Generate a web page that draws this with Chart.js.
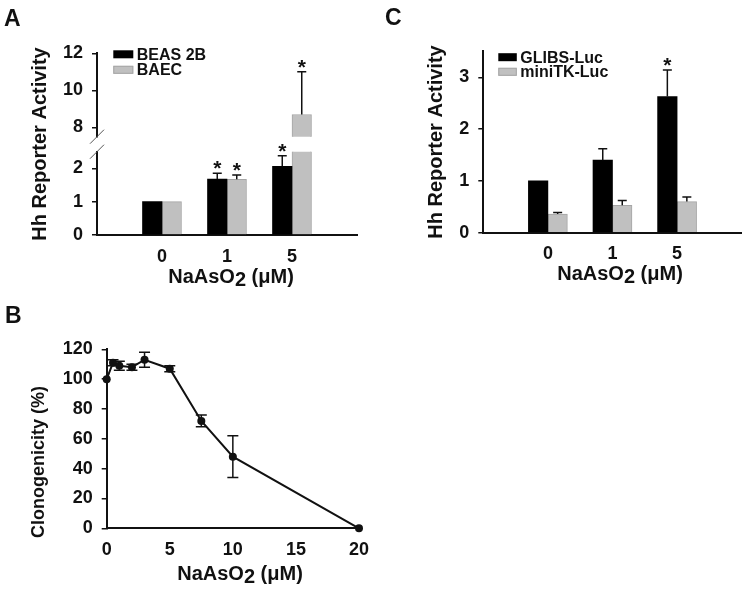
<!DOCTYPE html>
<html><head><meta charset="utf-8">
<script src="https://cdn.jsdelivr.net/npm/chart.js@4/dist/chart.umd.min.js"></script>
<style>
html,body{margin:0;padding:0;background:#fff;}
#wrap{position:relative;width:749px;height:594px;overflow:hidden;background:#fff;}
canvas{position:absolute;}
.lab{position:absolute;font-family:"Liberation Sans",Arial,sans-serif;font-weight:bold;font-size:23px;line-height:23px;color:#111;}
</style></head><body>
<div id="wrap">
<canvas id="aLow" width="370" height="300" style="left:0;top:0"></canvas>
<canvas id="aHigh" width="370" height="300" style="left:0;top:0"></canvas>
<canvas id="cChart" width="369" height="300" style="left:380px;top:0"></canvas>
<canvas id="bChart" width="380" height="294" style="left:0;top:300px"></canvas>
<div class="lab" style="left:4px;top:7px">A</div>
<div class="lab" style="left:385px;top:6px">C</div>
<div class="lab" style="left:5px;top:304px">B</div>
</div>
<script>
// ---------- data ----------
const doseLabels = ['0', '1', '5'];
// Panel A
const beas2b = [1.0, 1.68, 2.06];
const beas2bErr = [0, 0.17, 0.32];
const beas2bSig = [false, true, true];
const baec = [1.0, 1.67, 8.7];
const baecErr = [0, 0.13, 2.3];
const baecSig = [false, true, true];
const aLowerTicks = [0, 1, 2];
const aUpperTicks = [8, 10, 12];
// Panel C
const glibs = [1.0, 1.40, 2.63];
const glibsErr = [0, 0.22, 0.51];
const glibsSig = [false, false, true];
const minitk = [0.36, 0.53, 0.60];
const minitkErr = [0.03, 0.09, 0.09];
const cTicks = [0, 1, 2, 3];
// Panel B
const clonoDose = [0, 0.5, 1, 2, 3, 5, 7.5, 10, 20];
const clono = [100, 111, 109, 108, 113, 107, 72, 48, 0];
const clonoErr = [0, 2, 3, 2, 5, 2, 4, 14, 0];
const bXTicks = [0, 5, 10, 15, 20];
const bYTicks = [0, 20, 40, 60, 80, 100, 120];
// texts
const yTitleHh = 'Hh Reporter Activity';
const yTitleClono = 'Clonogenicity (%)';
const xTitleDose = 'NaAsO2 (μM)';

// ---------- helpers ----------
const FONT = "'Liberation Sans', Arial, sans-serif";
const INK = '#111';
const BLACK = '#000';
const GREY = '#c0c0c0';
const pad = arr => [null, ...arr, null];
const catLabels = pad(doseLabels);

const errPlugin = {
  id: 'errBars',
  afterDatasetsDraw(chart, args, o) {
    const ctx = chart.ctx, yS = chart.scales.y, ca = chart.chartArea;
    chart.data.datasets.forEach((ds, di) => {
      if (!ds.errors) return;
      const meta = chart.getDatasetMeta(di);
      meta.data.forEach((el, i) => {
        const raw = ds.data[i];
        const val = (raw !== null && typeof raw === 'object') ? raw.y : raw;
        if (val === null || val === undefined) return;
        const e = ds.errors[i];
        const x = el.x;
        if (e) {
          const yTop = yS.getPixelForValue(val + e);
          const yBot = yS.getPixelForValue(o.both ? val - e : val);
          ctx.save();
          ctx.beginPath(); ctx.rect(ca.left - 20, ca.top, ca.width + 40, ca.height); ctx.clip();
          ctx.strokeStyle = INK; ctx.lineWidth = o.lw || 1.5;
          ctx.beginPath();
          ctx.moveTo(x, yBot); ctx.lineTo(x, yTop);
          ctx.moveTo(x - o.cap / 2, yTop); ctx.lineTo(x + o.cap / 2, yTop);
          if (o.both) { ctx.moveTo(x - o.cap / 2, yBot); ctx.lineTo(x + o.cap / 2, yBot); }
          ctx.stroke();
          ctx.restore();
        }
        if (ds.sig && ds.sig[i]) {
          const top = val + (e || 0);
          if (top >= yS.min && top <= yS.max) {
            const yy = yS.getPixelForValue(top);
            ctx.save();
            ctx.fillStyle = INK; ctx.font = 'bold 21px ' + FONT;
            ctx.textAlign = 'center'; ctx.textBaseline = 'alphabetic';
            ctx.fillText('*', x, yy + 2);
            ctx.restore();
          }
        }
      });
    });
  }
};

function drawRich(ctx, it) {
  ctx.save();
  ctx.translate(it.x, it.y);
  ctx.rotate(it.rot || 0);
  ctx.font = 'bold ' + (it.size || 20) + 'px ' + FONT;
  ctx.fillStyle = INK; ctx.textBaseline = 'middle'; ctx.textAlign = 'left';
  const s = it.sub;
  const segs = (s !== undefined && s >= 0)
    ? [[it.text.slice(0, s), 0], [it.text[s], 3], [it.text.slice(s + 1), 0]]
    : [[it.text, 0]];
  const total = segs.reduce((acc, sg) => acc + ctx.measureText(sg[0]).width, 0);
  let cx = -total / 2;
  segs.forEach(sg => { ctx.fillText(sg[0], cx, sg[1]); cx += ctx.measureText(sg[0]).width; });
  ctx.restore();
}

const titlesPlugin = {
  id: 'freeTitles',
  afterDraw(chart, args, o) {
    (o.items || []).forEach(it => drawRich(chart.ctx, it));
  }
};

const legendPlugin = {
  id: 'boxLegend',
  afterDraw(chart, args, o) {
    if (!o.show) return;
    const ctx = chart.ctx, ca = chart.chartArea;
    ctx.save();
    ctx.font = 'bold 16px ' + FONT; ctx.textBaseline = 'middle'; ctx.textAlign = 'left';
    chart.data.datasets.forEach((ds, i) => {
      const cy = ca.top + o.dy + i * o.lineH;
      const bx = ca.left + o.dx;
      ctx.fillStyle = ds.backgroundColor;
      ctx.fillRect(bx, cy - o.boxH / 2, o.boxW, o.boxH);
      if (ds.borderWidth) {
        ctx.strokeStyle = ds.borderColor; ctx.lineWidth = 1;
        ctx.strokeRect(bx + 0.5, cy - o.boxH / 2 + 0.5, o.boxW - 1, o.boxH - 1);
      }
      ctx.fillStyle = INK;
      ctx.fillText(ds.label, bx + o.boxW + o.gap, cy + 1);
    });
    ctx.restore();
  }
};

const breakPlugin = {
  id: 'axisBreak',
  afterDraw(chart, args, o) {
    if (!o.edge) return;
    const ctx = chart.ctx, ca = chart.chartArea;
    const y = o.edge === 'top' ? ca.top : ca.bottom;
    const x = ca.left;
    ctx.save();
    ctx.strokeStyle = '#555'; ctx.lineWidth = 1;
    ctx.beginPath(); ctx.moveTo(x - 7, y + 7); ctx.lineTo(x + 7, y - 7); ctx.stroke();
    ctx.restore();
  }
};

Chart.register(errPlugin, titlesPlugin, legendPlugin, breakPlugin);

function yAxis(ticksArr, min, max, width) {
  return {
    min, max,
    afterBuildTicks: s => { s.ticks = ticksArr.map(v => ({ value: v })); },
    afterFit: s => { s.width = width; },
    grid: { display: true, drawOnChartArea: false, drawTicks: true, tickLength: 5, color: INK, lineWidth: 1.5 },
    border: { display: true, color: INK, width: 2 },
    ticks: { padding: 9, color: INK, font: { family: FONT, size: 18, weight: 'bold' } }
  };
}
function xCatAxis(height, show) {
  return {
    type: 'category', offset: false, display: show,
    afterFit: s => { s.height = height; },
    grid: { display: false, drawTicks: false },
    border: { display: true, color: INK, width: 2 },
    ticks: { padding: 11, color: INK, autoSkip: false, maxRotation: 0, font: { family: FONT, size: 18, weight: 'bold' } }
  };
}
const base = { responsive: false, animation: false, devicePixelRatio: 1, events: [] };
function barDs(label, values, errs, sig, color, filter) {
  return {
    label,
    data: pad(values.map(v => filter(v) ? v : null)),
    errors: pad(errs), sig: sig ? pad(sig) : null,
    backgroundColor: color,
    borderColor: color === GREY ? '#a5a5a5' : color,
    borderWidth: color === GREY ? 1 : 0,
    barThickness: 19.5
  };
}

// ---------- Panel A lower ----------
const lowMax = 2.5, highMin = 7.5;
new Chart(document.getElementById('aLow'), {
  type: 'bar',
  data: { labels: catLabels, datasets: [
    barDs('BEAS 2B', beas2b, beas2bErr, beas2bSig, BLACK, v => true),
    barDs('BAEC', baec, baecErr, baecSig, GREY, v => true)
  ] },
  options: Object.assign({}, base, {
    layout: { padding: { left: 57, right: 13, top: 151.7, bottom: 0 } },
    scales: { x: xCatAxis(65, true), y: yAxis(aLowerTicks, 0, lowMax, 40) },
    plugins: {
      legend: { display: false }, tooltip: { enabled: false },
      errBars: { cap: 9, lw: 1.5, both: false },
      axisBreak: { edge: 'top' },
      freeTitles: { items: [
        { text: yTitleHh, x: 40, y: 144, rot: -Math.PI / 2, size: 20 },
        { text: xTitleDose, sub: xTitleDose.indexOf('2'), x: 231, y: 277.5, size: 20 }
      ] }
    }
  })
});

// ---------- Panel A upper ----------
new Chart(document.getElementById('aHigh'), {
  type: 'bar',
  data: { labels: catLabels, datasets: [
    barDs('BEAS 2B', beas2b, beas2bErr, beas2bSig, BLACK, v => v > highMin),
    barDs('BAEC', baec, baecErr, baecSig, GREY, v => v > highMin)
  ] },
  options: Object.assign({}, base, {
    layout: { padding: { left: 57, right: 13, top: 53.3, bottom: 163.3 } },
    scales: { x: xCatAxis(0, false), y: yAxis(aUpperTicks, highMin, 12, 40) },
    plugins: {
      legend: { display: false }, tooltip: { enabled: false },
      errBars: { cap: 9, lw: 1.5, both: false },
      axisBreak: { edge: 'bottom' },
      boxLegend: { show: true, dx: 16.3, dy: 1, lineH: 15.5, boxW: 20, boxH: 8, gap: 3.5 }
    }
  })
});

// ---------- Panel C ----------
new Chart(document.getElementById('cChart'), {
  type: 'bar',
  data: { labels: catLabels, datasets: [
    barDs('GLIBS-Luc', glibs, glibsErr, glibsSig, BLACK, v => true),
    barDs('miniTK-Luc', minitk, minitkErr, null, GREY, v => true)
  ] },
  options: Object.assign({}, base, {
    layout: { padding: { left: 53.3, right: 7.3, top: 51.4, bottom: 0 } },
    scales: { x: xCatAxis(67.3, true), y: yAxis(cTicks, 0, 3.5, 50) },
    plugins: {
      legend: { display: false }, tooltip: { enabled: false },
      errBars: { cap: 9, lw: 1.5, both: false },
      boxLegend: { show: true, dx: 15, dy: 5.8, lineH: 14.6, boxW: 18.5, boxH: 8, gap: 3.5 },
      freeTitles: { items: [
        { text: yTitleHh, x: 56, y: 142, rot: -Math.PI / 2, size: 20 },
        { text: xTitleDose, sub: xTitleDose.indexOf('2'), x: 240, y: 274, size: 20 }
      ] }
    }
  })
});

// ---------- Panel B ----------
new Chart(document.getElementById('bChart'), {
  type: 'line',
  data: { datasets: [{
    label: 'Clonogenicity',
    data: clonoDose.map((d, i) => ({ x: d, y: clono[i] })),
    errors: clonoErr,
    borderColor: INK, borderWidth: 2, tension: 0,
    pointRadius: 4, pointBackgroundColor: INK, pointBorderWidth: 0,
    clip: false
  }] },
  options: Object.assign({}, base, {
    layout: { padding: { left: 56.7, right: 13.3, top: 49.3, bottom: 0 } },
    scales: {
      x: {
        type: 'linear', min: 0, max: 20,
        afterBuildTicks: s => { s.ticks = bXTicks.map(v => ({ value: v })); },
        afterFit: s => { s.height = 65.7; },
        grid: { display: false, drawTicks: false },
        border: { display: true, color: INK, width: 2 },
        ticks: { padding: 11, color: INK, maxRotation: 0, font: { family: FONT, size: 18, weight: 'bold' } }
      },
      y: yAxis(bYTicks, 0, 120, 50)
    },
    plugins: {
      legend: { display: false }, tooltip: { enabled: false },
      errBars: { cap: 11, lw: 1.5, both: true },
      freeTitles: { items: [
        { text: yTitleClono, x: 39, y: 162, rot: -Math.PI / 2, size: 18 },
        { text: xTitleDose, sub: xTitleDose.indexOf('2'), x: 240, y: 274, size: 20 }
      ] }
    }
  })
});
</script>
</body></html>
